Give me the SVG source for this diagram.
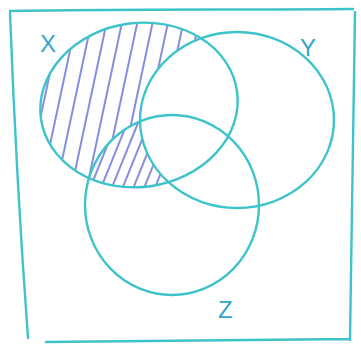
<svg xmlns="http://www.w3.org/2000/svg" width="361" height="346" viewBox="0 0 361 346">
<style>
.ink{fill:none;stroke:#3fc3cb;stroke-width:2.4;stroke-linecap:round;stroke-linejoin:round}
.hatch{stroke:#6b6fd6;stroke-width:1.6;stroke-linecap:round}
.lbl{font-family:"Liberation Sans",Arial,sans-serif;font-size:24px;fill:#35a6cc}
</style>
<defs>
<pattern id="hA" patternUnits="userSpaceOnUse" width="15" height="40" patternTransform="rotate(12)">
<line x1="4" y1="0" x2="4" y2="40" class="hatch"/>
</pattern>
<pattern id="hB" patternUnits="userSpaceOnUse" width="10" height="40" patternTransform="rotate(22)">
<line x1="4" y1="0" x2="4" y2="40" class="hatch"/>
</pattern>
<clipPath id="clipX"><ellipse cx="139" cy="105" rx="99" ry="82" transform="rotate(-8 139 105)"/></clipPath>
<mask id="notY">
<rect width="361" height="346" fill="#fff"/>
<ellipse cx="237" cy="120" rx="97" ry="88" fill="#000"/>
</mask>
<mask id="notYnotZ">
<rect width="361" height="346" fill="#fff"/>
<ellipse cx="237" cy="120" rx="97" ry="88" fill="#000"/>
<ellipse cx="172" cy="205" rx="87" ry="90" fill="#000"/>
</mask>
<clipPath id="clipZ"><ellipse cx="172" cy="205" rx="87" ry="90"/></clipPath>
</defs>
<rect width="361" height="346" fill="#fff"/>
<g id="hatching">
<g clip-path="url(#clipX)"><rect width="361" height="346" fill="url(#hA)" mask="url(#notYnotZ)"/></g>
<g clip-path="url(#clipX)"><g clip-path="url(#clipZ)"><rect width="361" height="346" fill="url(#hB)" mask="url(#notY)"/></g></g>
</g>
<g id="frame">
<path class="ink" d="M10,11 C120,9 240,10 353,9 M355,12 C353,120 352,230 350,340 M46,342 C150,341 250,340 350,339 M10,13 C14,120 20,230 28,338"/>
</g>
<g id="setX">
<ellipse class="ink" cx="139" cy="105" rx="99" ry="82" transform="rotate(-8 139 105)"/>
<text class="lbl" x="40" y="52">X</text>
</g>
<g id="setY">
<ellipse class="ink" cx="237" cy="120" rx="97" ry="88"/>
<text class="lbl" x="300" y="56">Y</text>
</g>
<g id="setZ">
<ellipse class="ink" cx="172" cy="205" rx="87" ry="90"/>
<text class="lbl" x="218" y="318">Z</text>
</g>
</svg>
